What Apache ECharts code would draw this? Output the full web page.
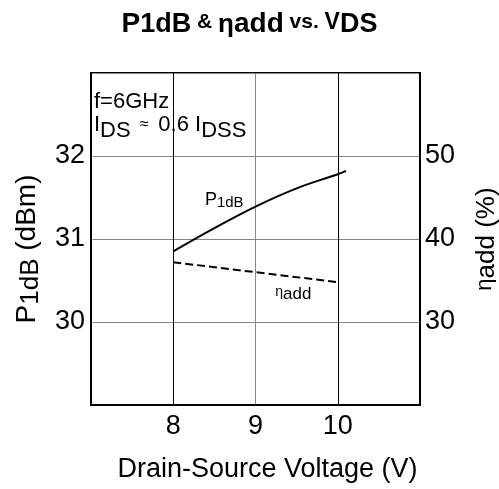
<!DOCTYPE html>
<html>
<head>
<meta charset="utf-8">
<script src="https://cdn.jsdelivr.net/npm/echarts@6/dist/echarts.min.js"></script>
<style>
  html, body { margin: 0; padding: 0; background: #fff; }
  #chart { width: 499px; height: 489px; }
</style>
</head>
<body>
<div id="chart"></div>
<script>
// values
const vds = [8, 8.5, 9, 9.5, 10, 10.1];
const p1db = [30.85, 31.13, 31.39, 31.61, 31.78, 31.82];
const etaVds = [8, 9, 10];
const etaAdd = [37.2, 36.0, 34.8];
const xTicks = [8, 9, 10];
const leftTicks = [30, 31, 32];
const rightTicks = [30, 40, 50];

const FONT = '"Liberation Sans", Arial, Helvetica, sans-serif';

let chart = echarts.init(document.getElementById('chart'));

function tok(size, extra) {
  return Object.assign({ fontSize: size, fontFamily: FONT, color: '#000' }, extra || {});
}

let option = {
  animation: false,
  textStyle: { fontFamily: FONT, color: '#000' },
  title: {
    text: '{b|P}{b2|1dB}{m| & }{e|η}{b|add}{m| vs. }{v|V}{b2|DS}',
    left: 'center',
    top: 5,
    textStyle: {
      rich: {
        b: tok(28, { fontWeight: 'bold', verticalAlign: 'bottom' }),
        b2: tok(27, { fontWeight: 'bold', verticalAlign: 'bottom' }),
        m: tok(21, { fontWeight: 'bold', verticalAlign: 'bottom', padding: [0, 0, 5, 0] }),
        e: tok(26, { verticalAlign: 'bottom' }),
        v: tok(23, { fontWeight: 'bold', verticalAlign: 'bottom', padding: [0, 0, 4, 0] })
      }
    }
  },
  grid: {
    left: 91, right: 79, top: 73, bottom: 84,
    outerBoundsMode: 'none',
    containLabel: false,
    show: true, borderColor: '#000', borderWidth: 2
  },
  xAxis: {
    type: 'value',
    min: 7, max: 11, interval: 1,
    name: 'Drain-Source Voltage (V)',
    nameLocation: 'middle',
    nameGap: 51,
    nameTextStyle: tok(27, { padding: [0, 0, 0, 24] }),
    axisLine: { show: true, lineStyle: { color: '#000', width: 2 } },
    axisTick: { show: false },
    axisLabel: {
      fontSize: 27, color: '#000', margin: 8,
      formatter: v => xTicks.includes(v) ? String(v) : ''
    },
    splitLine: {
      show: true,
      lineStyle: { color: ['#000', '#000', '#888', '#000', '#000'], width: 1 }
    }
  },
  yAxis: [
    {
      type: 'value',
      min: 29, max: 33, interval: 1,
      name: '{n|P}{s|1dB}{n| (dBm)}',
      nameLocation: 'middle',
      nameGap: 47,
      nameRotate: 90,
      nameTextStyle: {
        padding: [0, 20, 0, 0],
        rich: {
          n: tok(28),
          s: tok(26, { padding: [8, 0, 0, 0] })
        }
      },
      axisLine: { show: true, lineStyle: { color: '#000', width: 2 } },
      axisTick: { show: false },
      axisLabel: {
        fontSize: 27, color: '#000', margin: 6,
        formatter: v => leftTicks.includes(v) ? String(v) : ''
      },
      splitLine: { show: true, lineStyle: { color: '#888', width: 1 } }
    },
    {
      type: 'value',
      min: 20, max: 60, interval: 10,
      position: 'right',
      name: '{e|η}{n|add (%)}',
      nameLocation: 'middle',
      nameGap: 50,
      nameRotate: 90,
      nameTextStyle: {
        rich: {
          e: tok(22),
          n: tok(26, { padding: [4, 0, 0, 0] })
        }
      },
      axisLine: { show: true, lineStyle: { color: '#000', width: 2 } },
      axisTick: { show: false },
      axisLabel: {
        fontSize: 27, color: '#000', margin: 5,
        formatter: v => rightTicks.includes(v) ? String(v) : ''
      },
      splitLine: { show: false }
    }
  ],
  graphic: [
    {
      type: 'text',
      left: 94, top: 91,
      style: { text: 'f=6GHz', fontSize: 22, fontFamily: FONT, fill: '#000' }
    },
    {
      type: 'text',
      left: 94, top: 108,
      style: {
        text: '{n|I}{s|DS}{a| ≈ }{n|0.6 I}{s|DSS}',
        rich: {
          n: { fontSize: 22, fontFamily: FONT, fill: '#000', lineHeight: 23 },
          s: { fontSize: 22, fontFamily: FONT, fill: '#000', lineHeight: 23, padding: [12, 0, 0, 0] },
          a: { fontSize: 16, fontFamily: FONT, fill: '#000', lineHeight: 23, padding: [0, 5, 0, 5] }
        }
      }
    }
  ],
  series: [
    {
      name: 'P1dB',
      type: 'line',
      yAxisIndex: 0,
      smooth: 0.4,
      symbol: 'none',
      lineStyle: { color: '#000', width: 2 },
      data: vds.map((v, i) => [v, p1db[i]]),
      markPoint: {
        symbol: 'circle',
        symbolSize: 1,
        itemStyle: { color: 'rgba(0,0,0,0)' },
        data: [{ coord: [8.62, 31.47] }],
        label: {
          show: true,
          position: 'inside',
          formatter: '{n|P}{s|1dB}',
          rich: {
            n: tok(18),
            s: tok(15, { padding: [6, 0, 0, 0] })
          }
        }
      }
    },
    {
      name: 'eta',
      type: 'line',
      yAxisIndex: 1,
      symbol: 'none',
      lineStyle: { color: '#000', width: 2, type: [8, 4] },
      data: etaVds.map((v, i) => [v, etaAdd[i]]),
      markPoint: {
        symbol: 'circle',
        symbolSize: 1,
        itemStyle: { color: 'rgba(0,0,0,0)' },
        data: [{ coord: [9.46, 33.6] }],
        label: {
          show: true,
          position: 'inside',
          formatter: '{e|η}{n|add}',
          rich: {
            e: tok(14),
            n: tok(17, { padding: [4, 0, 0, 0] })
          }
        }
      }
    }
  ]
};

chart.setOption(option);
</script>
</body>
</html>
